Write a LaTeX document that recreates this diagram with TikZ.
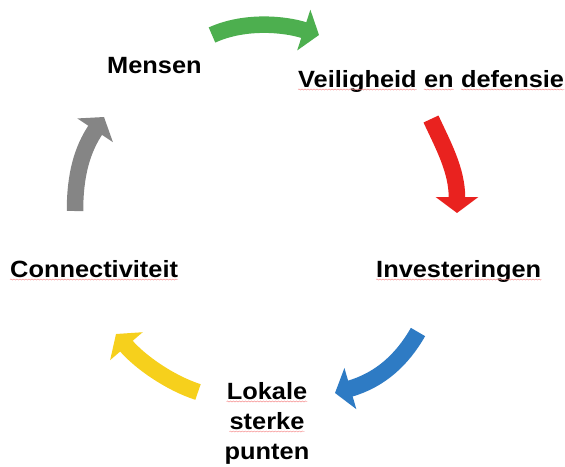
\documentclass[tikz,border=0pt]{standalone}
\usepackage{fontspec}
\newfontfamily\lblfont{Liberation Sans}[FakeStretch=1.08]
\usetikzlibrary{arrows.meta,calc,decorations.pathmorphing}
\definecolor{cgreen}{HTML}{4DAF4F}
\definecolor{cred}{HTML}{E9221F}
\definecolor{cblue}{HTML}{2E7BC4}
\definecolor{cyellow}{HTML}{F6D01C}
\definecolor{cgray}{HTML}{858585}
\definecolor{csquig}{HTML}{F04848}
\tikzset{
  cyc/.style={line width=16.5pt, -{Triangle[length=16pt,width=42pt]}},
  txt/.style={font=\lblfont\bfseries\fontsize{23.5}{28}\selectfont, text=black, inner sep=0pt, anchor=base west},
  squig/.style={draw=csquig!70, line width=0.4pt, decorate, decoration={snake, amplitude=0.55pt, segment length=3pt}},
}
\begin{document}
\begin{tikzpicture}[x=1pt,y=-1pt]
\useasboundingbox (0,0) rectangle (565,466);
% arrows
\coordinate (g0) at (212,35); \coordinate (g1) at (319,35);
\draw[cyc, cgreen] (g0) .. controls (245,20) and (285,24) .. (g1);
\coordinate (r0) at (431,119); \coordinate (r1) at (457,213);
\draw[cyc, cred] (r0) .. controls (443,145) and (457,170) .. (r1);
\coordinate (b0) at (418,332); \coordinate (b1) at (335,393);
\draw[cyc, cblue] (b0) .. controls (402,360) and (380,380) .. (b1);
\coordinate (y0) at (198,392); \coordinate (y1) at (116,334);
\draw[cyc, cyellow] (y0) .. controls (170,383) and (140,362) .. (y1);
\coordinate (k0) at (75,211); \coordinate (k1) at (104,117);
\draw[cyc, cgray] (k0) .. controls (75,175) and (82,150) .. (k1);
% labels
\node[txt] (mensen) at (107,73) {Mensen};
\node[txt] (v1) at (298,87) {Veiligheid};
\node[txt] (v2) at ($(v1.base east)+(7,0)$) {en};
\node[txt] (v3) at ($(v2.base east)+(7,0)$) {defensie};
\node[txt] (inv) at (376,277) {Investeringen};
\node[txt] (con) at (10,277) {Connectiviteit};
\node[txt, anchor=base] (lok1) at (267,399) {Lokale};
\node[txt, anchor=base] (lok2) at (267,429) {sterke};
\node[txt, anchor=base] (lok3) at (267,459) {punten};
% spelling squiggles
\foreach \w in {v1,v2,v3,inv,con,lok1,lok2}{
  \draw[squig] ([yshift=-2.5pt]\w.base west) -- ([yshift=-2.5pt]\w.base east);
}
\end{tikzpicture}
\end{document}
